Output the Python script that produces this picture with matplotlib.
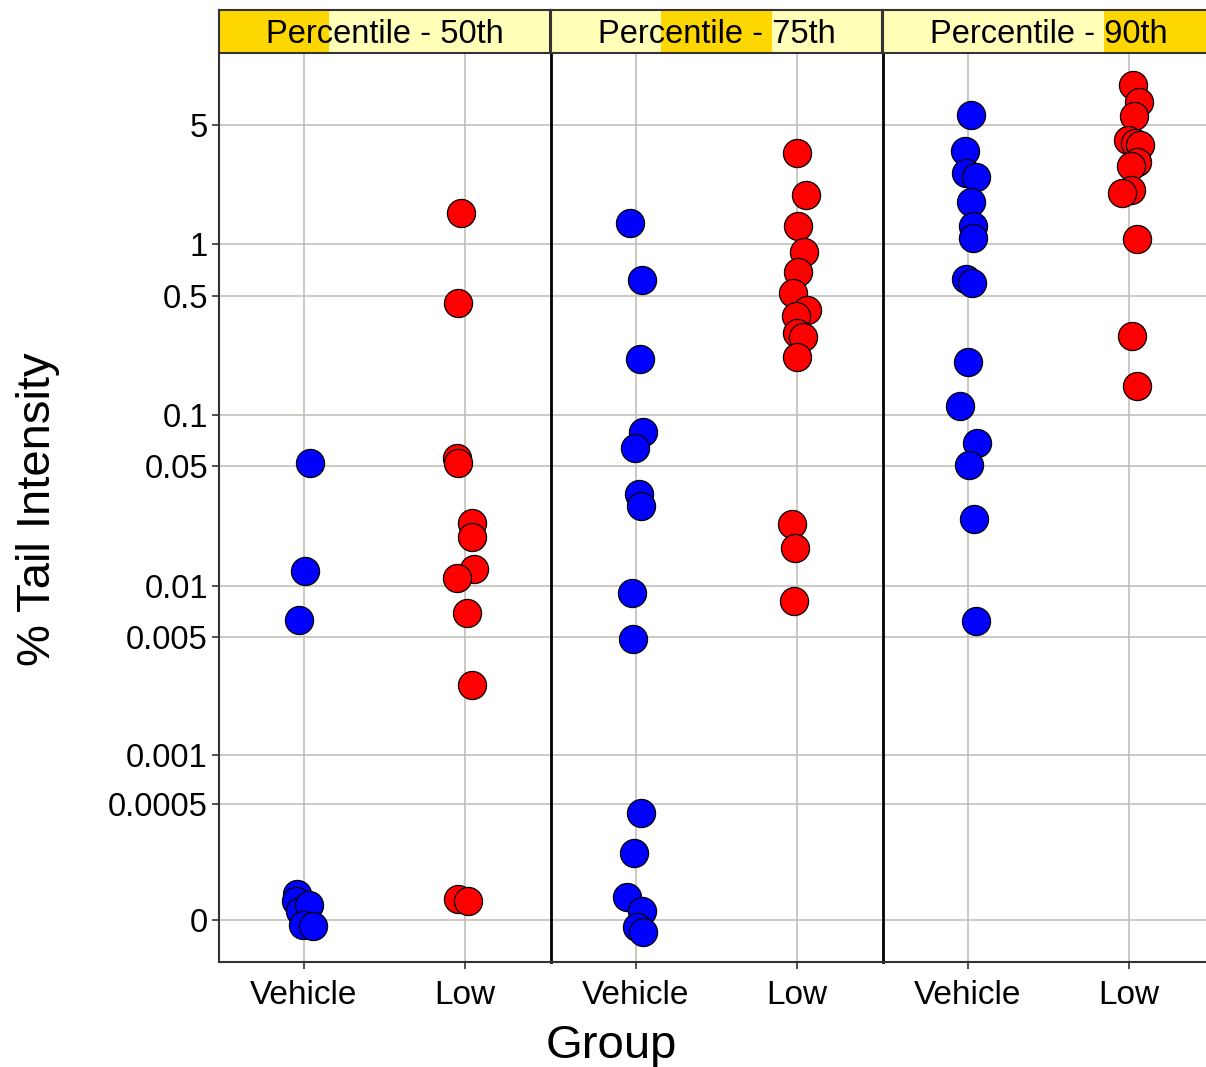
import numpy as np
import matplotlib
matplotlib.use("Agg")
import matplotlib.pyplot as plt
from matplotlib.ticker import NullLocator

plt.rcParams['font.family'] = ['Liberation Sans', 'DejaVu Sans']

# --- DATI ---
pannelli = ["Percentile - 50th", "Percentile - 75th", "Percentile - 90th"]
gruppi = ["Vehicle", "Low"]

p50_vehicle = [0.0525, 0.0122, 0.00629, 0.0000780, 0.0000560, 0.0000280,
               0.0000440, -0.0000150, -0.0000180]
p50_vehicle_jit = [0.037, 0.008, -0.029, -0.042, -0.050, -0.025, 0.031, -0.004, 0.054]
p50_low = [1.530, 0.453, 0.0560, 0.0523, 0.0233, 0.0193, 0.0125, 0.0111,
           0.00692, 0.00261, 0.0000632, 0.0000561]
p50_low_jit = [-0.027, -0.042, -0.052, -0.045, 0.042, 0.042, 0.058, -0.052,
               0.011, 0.042, -0.043, 0.017]

p75_vehicle = [1.327, 0.618, 0.212, 0.0791, 0.0643, 0.0344, 0.0293, 0.00909,
               0.00485, 0.000438, 0.000226, 0.0000685, 0.0000268, -0.0000199,
               -0.0000349]
p75_vehicle_jit = [-0.037, 0.039, 0.025, 0.045, -0.006, 0.019, 0.031, -0.027,
                   -0.020, 0.031, -0.012, -0.054, 0.039, 0.008, 0.045]
p75_low = [3.44, 1.944, 1.279, 0.897, 0.691, 0.516, 0.412, 0.380, 0.303,
           0.287, 0.218, 0.0230, 0.01656, 0.00813]
p75_low_jit = [-0.002, 0.054, 0.008, 0.045, 0.008, -0.023, 0.060, -0.006,
               0.002, 0.039, 0.002, -0.033, -0.012, -0.019]

p90_vehicle = [5.72, 3.53, 2.60, 2.47, 1.776, 1.285, 1.084, 0.623, 0.591,
               0.205, 0.1128, 0.0682, 0.0509, 0.0245, 0.00621]
p90_vehicle_jit = [0.017, -0.019, -0.012, 0.048, 0.017, 0.033, 0.033, -0.012,
                   0.023, 0.002, -0.050, 0.054, 0.008, 0.039, 0.048]
p90_low = [8.57, 6.79, 5.64, 4.08, 3.93, 3.81, 3.05, 2.87, 2.08, 1.99,
           1.074, 0.291, 0.148]
p90_low_jit = [0.023, 0.062, 0.031, -0.004, 0.037, 0.068, 0.048, 0.011,
               0.011, -0.045, 0.048, 0.020, 0.048]

tick_valori = [0, 0.0005, 0.001, 0.005, 0.01, 0.05, 0.1, 0.5, 1, 5]
tick_etichette = ["0", "0.0005", "0.001", "0.005", "0.01", "0.05", "0.1", "0.5", "1", "5"]

dati = [
    [(p50_vehicle, p50_vehicle_jit), (p50_low, p50_low_jit)],
    [(p75_vehicle, p75_vehicle_jit), (p75_low, p75_low_jit)],
    [(p90_vehicle, p90_vehicle_jit), (p90_low, p90_low_jit)],
]
colori = ["#0000FF", "#FF0000"]

# --- SCALA pseudo-log ---
SIG2 = 0.00022


def avanti(v):
    return np.arcsinh(np.asarray(v, dtype=float) / SIG2) / np.log(10)


def indietro(u):
    return SIG2 * np.sinh(np.asarray(u, dtype=float) * np.log(10))


W, H = 1206, 1067
fig = plt.figure(figsize=(W / 100, H / 100), dpi=100)

x_sx, larg = 219, 331
y_top, y_bot = 53, 962
strip_top = 10

for i, nome in enumerate(pannelli):
    left = x_sx + 332 * i
    ax = fig.add_axes([left / W, 1 - y_bot / H, larg / W, (y_bot - y_top) / H])
    ax.set_yscale('function', functions=(avanti, indietro))
    ax.set_ylim(-0.0001314, 13.19)
    ax.set_xlim(0.472, 2.528)

    ax.set_yticks(tick_valori)
    ax.set_yticklabels(tick_etichette)
    ax.yaxis.set_minor_locator(NullLocator())
    ax.set_xticks([1, 2])
    ax.set_xticklabels(gruppi)

    ax.grid(True, color="#BEBAB5", lw=1.1)
    ax.set_axisbelow(True)

    for j, (valori, jit) in enumerate(dati[i]):
        xs = [j + 1 + d for d in jit]
        ax.scatter(xs, valori, s=410, c=colori[j], edgecolors="black",
                   linewidths=0.9, zorder=3)

    for lato in ["top", "right"]:
        ax.spines[lato].set_visible(False)
    ax.spines["bottom"].set_color("#333333")
    ax.spines["bottom"].set_linewidth(1.5)
    ax.spines["left"].set_color("#333333" if i == 0 else "black")
    ax.spines["left"].set_linewidth(1.5 if i == 0 else 2.0)

    ax.tick_params(axis="x", length=5, width=1.2, color="#333333",
                   labelsize=24, pad=8, labelcolor="black")
    if i == 0:
        ax.tick_params(axis="y", length=5, width=1.2, color="#333333",
                       labelsize=23.5, pad=3, labelcolor="black")
    else:
        ax.tick_params(axis="y", length=0, labelleft=False)

    # striscia del pannello
    sx = fig.add_axes([left / W, 1 - y_top / H, larg / W, (y_top - strip_top) / H])
    sx.set_facecolor("#FFFFB8")
    sx.set_xlim(0, 1)
    sx.set_ylim(0, 1)
    sx.axvspan(i / 3, (i + 1) / 3, color="#FFD700", lw=0)
    sx.text(0.5, 0.42, nome, ha="center", va="center", fontsize=23.5)
    sx.set_xticks([])
    sx.set_yticks([])
    for lato in sx.spines.values():
        lato.set_color("#333333")
        lato.set_linewidth(1.5)

fig.text(611 / W, 1 - 1058 / H, "Group", ha="center", va="baseline", fontsize=34)
fig.text(38 / W, 1 - 509 / H, "% Tail Intensity", ha="center", va="center",
         rotation=90, fontsize=34)

fig.savefig("out.png", dpi=100)
